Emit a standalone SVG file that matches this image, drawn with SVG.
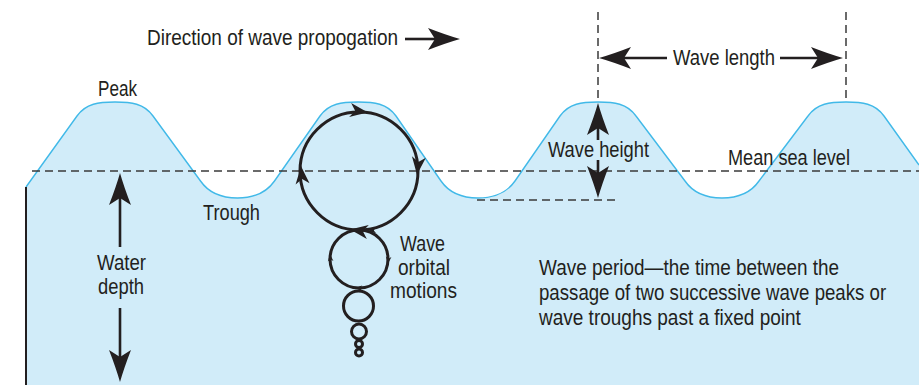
<svg xmlns="http://www.w3.org/2000/svg" xmlns:xlink="http://www.w3.org/1999/xlink" width="919" height="385" viewBox="0 0 919 385">
<style>
  text { font-family: "Liberation Sans", Arial, sans-serif; font-size: 21.5px; fill: #231f20; }
  .dash { fill: none; stroke: #3a3a3a; stroke-width: 1.5; stroke-dasharray: 8 5; }
  .shaft { fill: none; stroke: #231f20; stroke-width: 2.6; }
  .orb { fill: none; stroke: #231f20; stroke-width: 3; }
  .head { fill: #231f20; }
</style>
<defs>
  <marker id="ah" viewBox="-33 -12 34 24" refX="-25" refY="0" markerWidth="34" markerHeight="24" markerUnits="userSpaceOnUse" orient="auto-start-reverse">
    <path d="M0,0 Q-14,-4 -32,-11 L-25,0 L-32,11 Q-14,4 0,0 Z" fill="#231f20"/>
  </marker>
  <path id="oa" d="M0,0 Q-8,-3 -18,-7 L-13,0 L-18,7 Q-8,3 0,0 Z"/>
</defs>

<g id="sea">
  <path d="M26,187 L77,116 C86,103.3 99,102 115,102 C131,102 144,103.3 153,116 L200.5,181 C209.5,194 223.5,198 237.5,198 C251.5,198 265.5,194 274.5,181 L320,116 C329,103.3 342,102 358,102 C374,102 387,103.3 396,116 L441,181 C450,194 464,198 478,198 C492,198 506,194 515,181 L560,116 C569,103.3 582,102 598,102 C614,102 627,103.3 636,116 L685,181 C694,194 708,198 722,198 C736,198 750,194 759,181 L808,116 C817,103.3 830,102 846,102 C862,102 875,103.3 884,116 L919,165 L919,385 L26,385 Z" fill="#d1ecf9"/>
  <path d="M26,187 L77,116 C86,103.3 99,102 115,102 C131,102 144,103.3 153,116 L200.5,181 C209.5,194 223.5,198 237.5,198 C251.5,198 265.5,194 274.5,181 L320,116 C329,103.3 342,102 358,102 C374,102 387,103.3 396,116 L441,181 C450,194 464,198 478,198 C492,198 506,194 515,181 L560,116 C569,103.3 582,102 598,102 C614,102 627,103.3 636,116 L685,181 C694,194 708,198 722,198 C736,198 750,194 759,181 L808,116 C817,103.3 830,102 846,102 C862,102 875,103.3 884,116 L919,165" fill="none" stroke="#41b9e8" stroke-width="1.4"/>
  <line x1="26" y1="187" x2="26" y2="385" stroke="#231f20" stroke-width="2"/>
</g>

<g id="guides">
  <line class="dash" x1="32" y1="171" x2="919" y2="171"/>
  <line class="dash" x1="477" y1="200" x2="620" y2="200"/>
  <line class="dash" x1="598" y1="12" x2="598" y2="102"/>
  <line class="dash" x1="846" y1="12" x2="846" y2="102"/>
</g>

<g id="orbitals">
  <circle class="orb" cx="359" cy="171" r="59"/>
  <circle class="orb" cx="359" cy="259" r="29"/>
  <circle class="orb" cx="358.5" cy="306" r="15" stroke-width="2.6"/>
  <circle class="orb" cx="359" cy="331.5" r="7.5" stroke-width="2"/>
  <circle class="orb" cx="359" cy="344" r="3.5" stroke-width="1.6"/>
  <circle class="orb" cx="359" cy="352.5" r="3.5" stroke-width="1.6"/>
  <use xlink:href="#oa" class="head" transform="translate(368,112.5) rotate(8)"/>
  <use xlink:href="#oa" class="head" transform="translate(417,175) rotate(96)"/>
  <use xlink:href="#oa" class="head" transform="translate(301,166) rotate(-95)"/>
  <use xlink:href="#oa" class="head" transform="translate(350,229.5) rotate(188)"/>
  <use xlink:href="#oa" class="head" transform="translate(368,231) rotate(175) scale(0.45)"/>
  <use xlink:href="#oa" class="head" transform="translate(330,254) rotate(-95) scale(0.4)"/>
  <use xlink:href="#oa" class="head" transform="translate(388,264) rotate(95) scale(0.4)"/>
  <use xlink:href="#oa" class="head" transform="translate(355,288) rotate(182) scale(0.4)"/>
</g>

<g id="connectors">
  <line class="shaft" x1="405" y1="39" x2="435" y2="39" marker-end="url(#ah)"/>
  <line class="shaft" x1="667" y1="58" x2="624" y2="58" marker-end="url(#ah)"/>
  <line class="shaft" x1="780" y1="58" x2="818" y2="58" marker-end="url(#ah)"/>
  <line class="shaft" x1="120" y1="247" x2="120" y2="198" marker-end="url(#ah)"/>
  <line class="shaft" x1="120" y1="308" x2="120" y2="357" marker-end="url(#ah)"/>
  <line class="shaft" x1="598" y1="140" x2="598" y2="128" marker-end="url(#ah)"/>
  <line class="shaft" x1="598" y1="160" x2="598" y2="173" marker-end="url(#ah)"/>
</g>

<g id="labels">
  <text id="direction" x="147" y="45" textLength="251" lengthAdjust="spacingAndGlyphs">Direction of wave propogation</text>
  <text id="peak" x="98" y="96" textLength="39" lengthAdjust="spacingAndGlyphs">Peak</text>
  <text id="trough" x="203" y="220" textLength="57" lengthAdjust="spacingAndGlyphs">Trough</text>
  <g id="water-depth">
    <text x="97" y="270" textLength="49" lengthAdjust="spacingAndGlyphs">Water</text>
    <text x="98" y="294" textLength="46" lengthAdjust="spacingAndGlyphs">depth</text>
  </g>
  <g id="orbital-label">
    <text x="400" y="251" textLength="45" lengthAdjust="spacingAndGlyphs">Wave</text>
    <text x="398" y="275" textLength="52" lengthAdjust="spacingAndGlyphs">orbital</text>
    <text x="390" y="298" textLength="67" lengthAdjust="spacingAndGlyphs">motions</text>
  </g>
  <text id="wave-length" x="673" y="65" textLength="102" lengthAdjust="spacingAndGlyphs">Wave length</text>
  <text id="wave-height" x="548" y="157" textLength="101" lengthAdjust="spacingAndGlyphs">Wave height</text>
  <text id="mean-sea-level" x="728" y="165" textLength="122" lengthAdjust="spacingAndGlyphs">Mean sea level</text>
  <g id="wave-period" transform="translate(539 0) scale(0.87 1)">
    <text x="0" y="275" textLength="345" lengthAdjust="spacingAndGlyphs">Wave period—the time between the</text>
    <text x="0" y="300" textLength="399" lengthAdjust="spacingAndGlyphs">passage of two successive wave peaks or</text>
    <text x="0" y="325" textLength="301" lengthAdjust="spacingAndGlyphs">wave troughs past a fixed point</text>
  </g>
</g>
</svg>
